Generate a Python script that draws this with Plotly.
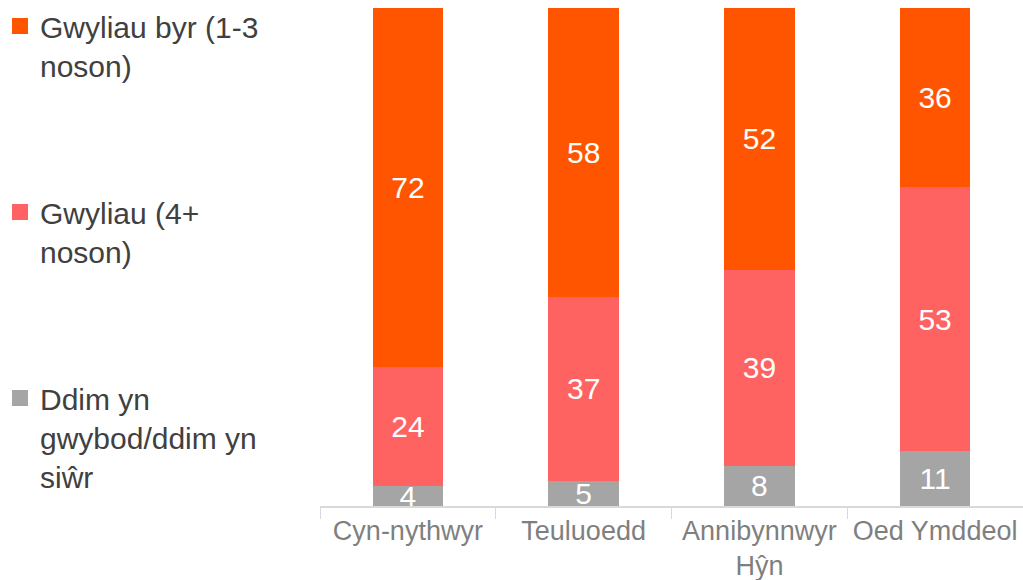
import plotly.graph_objects as go

# categories and values (%)
categories = ['Cyn-nythwyr', 'Teuluoedd', 'Annibynnwyr<br>Hŷn', 'Oed Ymddeol']
unsure = [4, 5, 8, 11]
long_breaks = [24, 37, 39, 53]
short_breaks = [72, 58, 52, 36]

names = ['Ddim yn<br>gwybod/ddim yn<br>siŵr', 'Gwyliau (4+<br>noson)', 'Gwyliau byr (1-3<br>noson)']
colors = ['#A5A5A5', '#FF6361', '#FF5500']
series = [unsure, long_breaks, short_breaks]

fig = go.Figure()
for idx, vals in enumerate(series):
    fig.add_trace(go.Bar(
        x=categories, y=vals, name=names[idx], showlegend=False,
        marker=dict(color=colors[idx], line=dict(width=0)),
        text=vals, textposition='inside', insidetextanchor='middle',
        textangle=0, constraintext='none',
        textfont=dict(color='white', size=30, family='Arial, Liberation Sans'),
    ))

# legend entries (bigger square markers than the bar legend gives), top to bottom
for rank, idx in enumerate([2, 1, 0]):
    fig.add_trace(go.Scatter(
        x=[None], y=[None], mode='markers', name=names[idx],
        legendgroup=str(idx), legendrank=rank + 1,
        marker=dict(symbol='square', size=16, color=colors[idx]),
    ))

fig.update_layout(
    barmode='stack', barnorm='percent', bargap=0.6,
    width=1023, height=580,
    margin=dict(l=320, r=0, t=8, b=74),
    plot_bgcolor='white', paper_bgcolor='white',
    font=dict(family='Arial, Liberation Sans', color='#404040'),
    showlegend=True,
    legend=dict(
        xref='container', yref='container', x=0.0, y=1.0,
        xanchor='left', yanchor='top', valign='top',
        traceorder='grouped', tracegroupgap=105,
        font=dict(size=30, color='#404040'),
        itemwidth=30, maxheight=1,
    ),
    xaxis=dict(
        showline=True, linecolor='#D9D9D9', linewidth=1.5,
        ticks='outside', tickson='boundaries', ticklen=11, tickcolor='#D9D9D9',
        tickfont=dict(size=27, color='#7F7F7F'), ticklabelstandoff=0,
        automargin=False,
    ),
    yaxis=dict(range=[0, 100], visible=False, automargin=False),
)

fig.write_html('out.html', config={'displayModeBar': False},
               post_script="document.body.style.margin='0';")
